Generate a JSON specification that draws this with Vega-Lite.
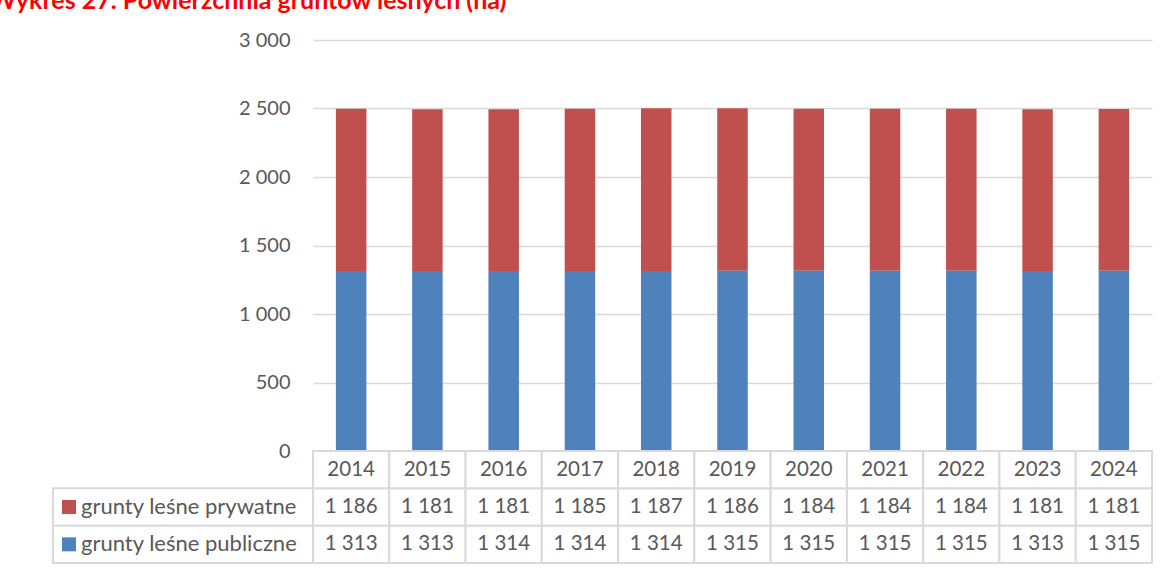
{
  "$schema": "https://vega.github.io/schema/vega-lite/v6.json",
  "autosize": {"type": "none"},
  "padding": {"left": 53, "top": 40, "right": 1114, "bottom": 530},
  "background": "white",
  "title": {"text": "Wykres 27. Powierzchnia gruntów leśnych (ha)", "anchor": "start", "frame": "group", "font": "Lato", "fontSize": 25, "fontWeight": "bold", "color": "#FF0000", "baseline": "alphabetic", "offset": 0, "dx": -63, "dy": 4},
  "datasets": {
    "d": [
      {"year": "2014", "series": "grunty leśne prywatne", "value": 1186},
      {"year": "2015", "series": "grunty leśne prywatne", "value": 1181},
      {"year": "2016", "series": "grunty leśne prywatne", "value": 1181},
      {"year": "2017", "series": "grunty leśne prywatne", "value": 1185},
      {"year": "2018", "series": "grunty leśne prywatne", "value": 1187},
      {"year": "2019", "series": "grunty leśne prywatne", "value": 1186},
      {"year": "2020", "series": "grunty leśne prywatne", "value": 1184},
      {"year": "2021", "series": "grunty leśne prywatne", "value": 1184},
      {"year": "2022", "series": "grunty leśne prywatne", "value": 1184},
      {"year": "2023", "series": "grunty leśne prywatne", "value": 1181},
      {"year": "2024", "series": "grunty leśne prywatne", "value": 1181},
      {"year": "2014", "series": "grunty leśne publiczne", "value": 1313},
      {"year": "2015", "series": "grunty leśne publiczne", "value": 1313},
      {"year": "2016", "series": "grunty leśne publiczne", "value": 1314},
      {"year": "2017", "series": "grunty leśne publiczne", "value": 1314},
      {"year": "2018", "series": "grunty leśne publiczne", "value": 1314},
      {"year": "2019", "series": "grunty leśne publiczne", "value": 1315},
      {"year": "2020", "series": "grunty leśne publiczne", "value": 1315},
      {"year": "2021", "series": "grunty leśne publiczne", "value": 1315},
      {"year": "2022", "series": "grunty leśne publiczne", "value": 1315},
      {"year": "2023", "series": "grunty leśne publiczne", "value": 1313},
      {"year": "2024", "series": "grunty leśne publiczne", "value": 1315}
    ],
    "years": [
      {"year": "2014"}, {"year": "2015"}, {"year": "2016"}, {"year": "2017"}, {"year": "2018"}, {"year": "2019"},
      {"year": "2020"}, {"year": "2021"}, {"year": "2022"}, {"year": "2023"}, {"year": "2024"}
    ],
    "series": [
      {"series": "grunty leśne prywatne"},
      {"series": "grunty leśne publiczne"}
    ]
  },
  "columns": 2,
  "spacing": 0,
  "bounds": "flush",
  "align": "each",
  "concat": [
    {
      "width": 260,
      "height": 411,
      "data": {"values": []},
      "mark": "point",
      "encoding": {}
    },
    {
      "width": 839,
      "height": 411,
      "data": {"name": "d"},
      "mark": {"type": "bar"},
      "encoding": {
        "x": {"field": "year", "type": "ordinal", "axis": null, "scale": {"paddingInner": 0.6, "paddingOuter": 0.3}},
        "y": {"field": "value", "type": "quantitative", "stack": "zero",
          "scale": {"domain": [0, 3000], "nice": false},
          "axis": {"values": [0, 500, 1000, 1500, 2000, 2500, 3000], "format": ",d", "grid": true, "gridColor": "#d9d9d9", "gridWidth": 1.5, "domain": false, "ticks": false, "labelPadding": 23, "labelFontSize": 20, "labelColor": "#595959", "labelFont": "Lato", "title": null}},
        "color": {"field": "series", "type": "nominal", "scale": {"domain": ["grunty leśne prywatne", "grunty leśne publiczne"], "range": ["#C0504D", "#4F81BD"]}, "legend": null},
        "order": {"field": "series", "sort": "descending"}
      }
    },
    {
      "width": 260,
      "height": 112,
      "data": {"name": "series"},
      "encoding": {
        "y": {"field": "series", "type": "nominal", "axis": null,
          "scale": {"type": "band", "domain": ["rok", "grunty leśne prywatne", "grunty leśne publiczne"], "paddingInner": 0, "paddingOuter": 0}}
      },
      "layer": [
        {
          "mark": {"type": "rect", "fill": "white", "stroke": "#d9d9d9", "strokeWidth": 2},
          "encoding": {
            "x": {"datum": 0, "type": "quantitative", "scale": {"domain": [0, 260], "nice": false, "zero": false}, "axis": null},
            "x2": {"datum": 260}
          }
        },
        {
          "mark": {"type": "square", "size": 196, "filled": true, "opacity": 1},
          "encoding": {
            "x": {"datum": 16, "type": "quantitative"},
            "color": {"field": "series", "type": "nominal", "scale": {"domain": ["grunty leśne prywatne", "grunty leśne publiczne"], "range": ["#C0504D", "#4F81BD"]}, "legend": null}
          }
        },
        {
          "mark": {"type": "text", "align": "left", "baseline": "middle", "fontSize": 22, "font": "Lato", "color": "#595959"},
          "encoding": {
            "x": {"datum": 28, "type": "quantitative"},
            "text": {"field": "series"}
          }
        }
      ]
    },
    {
      "width": 839,
      "height": 112,
      "layer": [
        {
          "data": {"name": "d"},
          "mark": {"type": "rect", "fill": "white", "stroke": "#d9d9d9", "strokeWidth": 2},
          "encoding": {
            "x": {"field": "year", "type": "ordinal", "axis": null, "scale": {"paddingInner": 0, "paddingOuter": 0}},
            "y": {"field": "series", "type": "nominal", "axis": null,
              "scale": {"type": "band", "domain": ["rok", "grunty leśne prywatne", "grunty leśne publiczne"], "paddingInner": 0, "paddingOuter": 0}}
          }
        },
        {
          "data": {"name": "years"},
          "mark": {"type": "rect", "fill": "white", "stroke": "#d9d9d9", "strokeWidth": 2},
          "encoding": {
            "x": {"field": "year", "type": "ordinal"},
            "y": {"datum": "rok", "type": "nominal"}
          }
        },
        {
          "data": {"name": "d"},
          "mark": {"type": "text", "align": "center", "baseline": "middle", "fontSize": 20.5, "font": "Lato", "color": "#595959"},
          "encoding": {
            "x": {"field": "year", "type": "ordinal"},
            "y": {"field": "series", "type": "nominal"},
            "text": {"field": "value", "type": "quantitative", "format": ",d"}
          }
        },
        {
          "data": {"name": "years"},
          "mark": {"type": "text", "align": "center", "baseline": "middle", "fontSize": 20.5, "font": "Lato", "color": "#595959"},
          "encoding": {
            "x": {"field": "year", "type": "ordinal"},
            "y": {"datum": "rok", "type": "nominal"},
            "text": {"field": "year"}
          }
        }
      ]
    }
  ],
  "config": {
    "view": {"stroke": null},
    "font": "Lato",
    "locale": {"number": {"decimal": ",", "thousands": " ", "grouping": [3], "currency": ["", ""]}}
  }
}
